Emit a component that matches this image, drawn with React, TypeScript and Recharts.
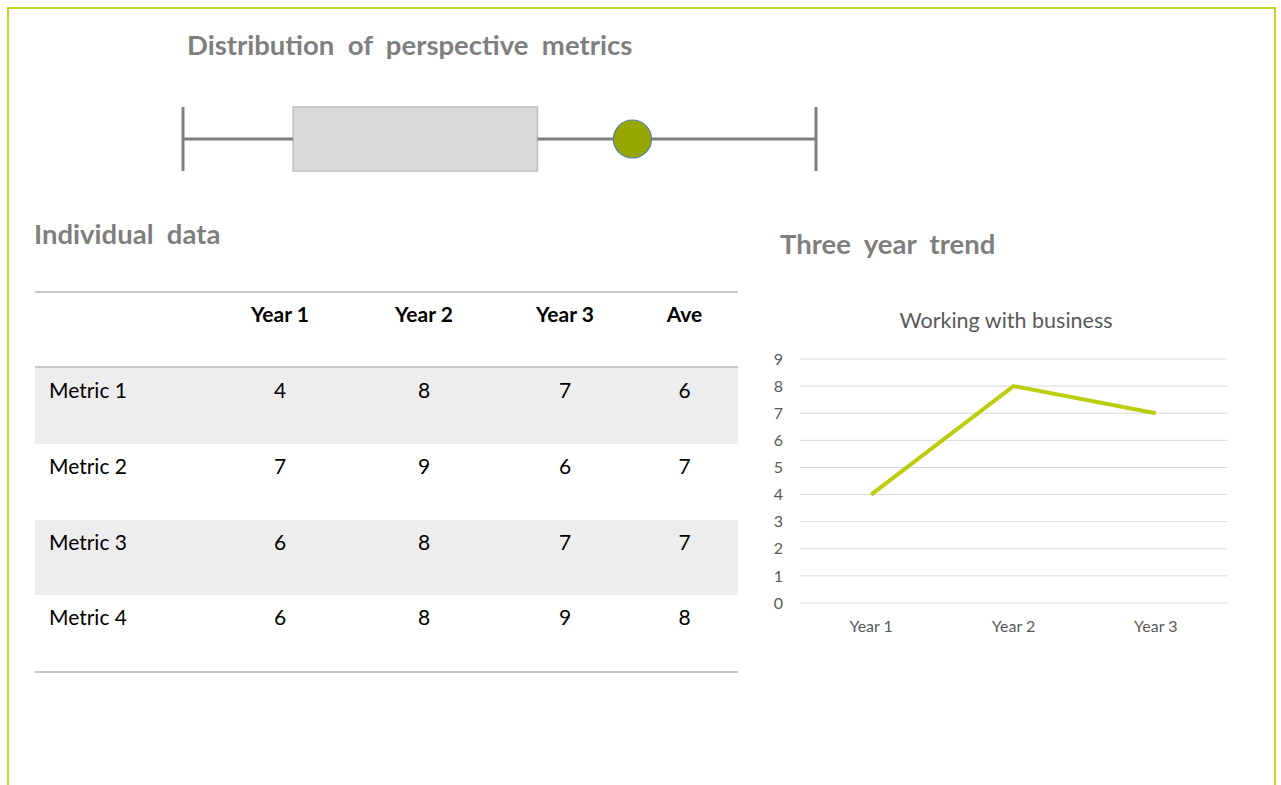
import React from 'react';
import {
  ComposedChart,
  LineChart,
  Line,
  XAxis,
  YAxis,
  CartesianGrid,
  ReferenceLine,
  ReferenceArea,
  Scatter,
} from 'recharts';

// box plot summary
const boxMin = 4;
const boxQ1 = 4.87;
const boxQ3 = 6.8;
const boxMax = 9;
const currentScore = [{ x: 7.55, y: 0.5 }];

const years = ['Year 1', 'Year 2', 'Year 3'];
const trendValues = [4, 8, 7];
const trendTicks = [0, 1, 2, 3, 4, 5, 6, 7, 8, 9];

const tableHeaders = ['', 'Year 1', 'Year 2', 'Year 3', 'Ave'];
const metricNames = ['Metric 1', 'Metric 2', 'Metric 3', 'Metric 4'];
const year1 = [4, 7, 6, 6];
const year2 = [8, 9, 8, 8];
const year3 = [7, 6, 7, 9];
const averages = [6, 7, 7, 8];

const trendData = years.map((name, i) => ({ name, value: trendValues[i] }));

const FONT = 'Lato, "Open Sans", sans-serif';
const heading: React.CSSProperties = {
  position: 'absolute',
  fontFamily: FONT,
  fontWeight: 700,
  fontSize: 27.5,
  color: '#7f7f7f',
  whiteSpace: 'pre',
  lineHeight: '32px',
};

const Dot = (props: any) => (
  <circle cx={props.cx} cy={props.cy} r={19} fill="#98a600" stroke="#4f7fab" strokeWidth={1.2} />
);

const BoxPlot = () => (
  <ComposedChart
    width={660}
    height={90}
    margin={{ top: 12, right: 14, bottom: 14, left: 13 }}
    data={currentScore}
  >
    <XAxis type="number" dataKey="x" domain={[boxMin, boxMax]} hide />
    <YAxis type="number" dataKey="y" domain={[0, 1]} hide />
    <ReferenceLine
      segment={[
        { x: boxMin, y: 0.5 },
        { x: boxQ1, y: 0.5 },
      ]}
      stroke="#7f7f7f"
      strokeWidth={3}
    />
    <ReferenceLine
      segment={[
        { x: boxQ3, y: 0.5 },
        { x: boxMax, y: 0.5 },
      ]}
      stroke="#7f7f7f"
      strokeWidth={3}
    />
    <ReferenceLine x={boxMin} stroke="#7f7f7f" strokeWidth={3} />
    <ReferenceLine x={boxMax} stroke="#7f7f7f" strokeWidth={3} />
    <ReferenceArea
      x1={boxQ1}
      x2={boxQ3}
      y1={0}
      y2={1}
      fill="#d9d9d9"
      fillOpacity={1}
      stroke="#bfbfbf"
      strokeWidth={1.5}
    />
    <Scatter data={currentScore} dataKey="y" shape={<Dot />} isAnimationActive={false} />
  </ComposedChart>
);

const TrendChart = () => (
  <LineChart
    width={490}
    height={350}
    data={trendData}
    margin={{ top: 59, right: 23, bottom: 17, left: 0 }}
  >
    <CartesianGrid vertical={false} stroke="#d9d9d9" strokeWidth={1} />
    <XAxis
      dataKey="name"
      scale="band"
      axisLine={false}
      tickLine={false}
      tickSize={0}
      tickMargin={18}
      height={30}
      tick={{ fill: '#595959', fontSize: 16, fontFamily: FONT }}
    />
    <YAxis
      domain={[0, 9]}
      ticks={trendTicks}
      interval={0}
      axisLine={false}
      tickLine={false}
      tickSize={0}
      tickMargin={17}
      width={40}
      tick={{ fill: '#595959', fontSize: 16, fontFamily: FONT }}
    />
    <Line
      type="linear"
      dataKey="value"
      stroke="#bccc0f"
      strokeWidth={4}
      dot={false}
      isAnimationActive={false}
    />
  </LineChart>
);

const colTemplate = '176px 138px 150px 132px 107px';

const DataTable = () => {
  const rows = metricNames.map((m, i) => [m, year1[i], year2[i], year3[i], averages[i]]);
  return (
    <div
      style={{
        position: 'absolute',
        left: 35,
        top: 291,
        width: 703,
        borderTop: '2px solid #c8c8c8',
        borderBottom: '2px solid #c8c8c8',
        fontFamily: FONT,
        fontSize: 21,
        lineHeight: '26px',
        color: '#000',
      }}
    >
      <div
        style={{
          display: 'grid',
          gridTemplateColumns: colTemplate,
          height: 73,
          borderBottom: '2px solid #c8c8c8',
          fontWeight: 700,
        }}
      >
        {tableHeaders.map((h, j) => (
          <div key={j} style={{ textAlign: 'center', paddingTop: 8 }}>
            {h}
          </div>
        ))}
      </div>
      {rows.map((r, i) => (
        <div
          key={i}
          style={{
            display: 'grid',
            gridTemplateColumns: colTemplate,
            height: 75.75,
            background: i % 2 === 0 ? '#ededed' : '#ffffff',
          }}
        >
          {r.map((c, j) => (
            <div
              key={j}
              style={{
                textAlign: j === 0 ? 'left' : 'center',
                paddingLeft: j === 0 ? 14 : 0,
                paddingTop: 9,
              }}
            >
              {c}
            </div>
          ))}
        </div>
      ))}
    </div>
  );
};

export default function App() {
  return (
    <div
      style={{
        position: 'absolute',
        left: 0,
        top: 0,
        width: 1281,
        height: 785,
        overflow: 'hidden',
        background: '#fff',
      }}
    >
      <div
        style={{
          position: 'absolute',
          left: 7,
          top: 7,
          width: 1265,
          height: 820,
          border: '2px solid #c4d62a',
        }}
      />
      <div style={{ ...heading, left: 187, top: 29 }}>Distribution  of  perspective  metrics</div>
      <div style={{ position: 'absolute', left: 170, top: 95 }}>
        <BoxPlot />
      </div>
      <div style={{ ...heading, left: 34, top: 218 }}>Individual  data</div>
      <div style={{ ...heading, left: 780, top: 228 }}>Three  year  trend</div>
      <DataTable />
      <div
        style={{
          position: 'absolute',
          left: 760,
          width: 492,
          top: 307,
          textAlign: 'center',
          fontFamily: FONT,
          fontSize: 21.5,
          lineHeight: '26px',
          color: '#595959',
        }}
      >
        Working with business
      </div>
      <div style={{ position: 'absolute', left: 760, top: 300 }}>
        <TrendChart />
      </div>
    </div>
  );
}
